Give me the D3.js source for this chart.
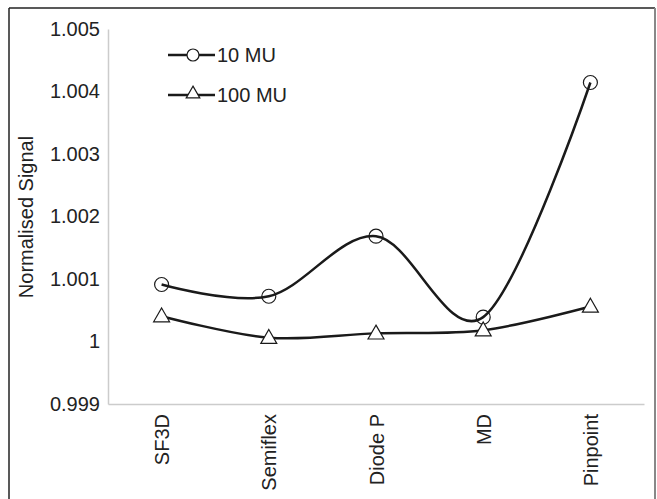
<!DOCTYPE html>
<html>
<head>
<meta charset="utf-8">
<script src="https://cdn.jsdelivr.net/npm/d3@7"></script>
<style>
  body { margin: 0; background: #fff; }
  text { font-family: "Liberation Sans", Arial, sans-serif; fill: #222; }
</style>
</head>
<body>
<div id="chart"></div>
<script>
var categories = ["SF3D", "Semiflex", "Diode P", "MD", "Pinpoint"];
var mu10 = [1.000912, 1.000724, 1.001685, 1.00039, 1.004144];
var mu100 = [1.000405, 1.00006, 1.00013, 1.00018, 1.00056];
var yTicks = [0.999, 1, 1.001, 1.002, 1.003, 1.004, 1.005];
var seriesNames = ["10 MU", "100 MU"];

var svgWidth = 657;
var svgHeight = 499;

var margin = { top: 29, right: 13, bottom: 95, left: 108 };
var width = svgWidth - margin.left - margin.right;
var height = svgHeight - margin.top - margin.bottom;

var svg = d3.select("#chart")
  .append("svg")
  .attr("width", svgWidth)
  .attr("height", svgHeight);

// outer frame
svg.append("line").attr("x1", 9).attr("y1", 8).attr("x2", 655).attr("y2", 8)
  .attr("stroke", "#222").attr("stroke-width", 1.5);
svg.append("line").attr("x1", 9).attr("y1", 8).attr("x2", 9).attr("y2", 499)
  .attr("stroke", "#222").attr("stroke-width", 1.5);
svg.append("line").attr("x1", 655).attr("y1", 8).attr("x2", 655).attr("y2", 499)
  .attr("stroke", "#888").attr("stroke-width", 2);

var chartGroup = svg.append("g")
  .attr("transform", `translate(${margin.left}, ${margin.top})`);

var xScale = d3.scalePoint()
  .domain(categories)
  .range([0, width])
  .padding(0.5);

var yScale = d3.scaleLinear()
  .domain([0.999, 1.005])
  .range([height, 0]);

// y axis
var leftAxis = d3.axisLeft(yScale)
  .tickValues(yTicks)
  .tickSize(0)
  .tickPadding(8)
  .tickFormat(d => d3.format("")(+d.toFixed(3)));

var yAxis = chartGroup.append("g").call(leftAxis);
yAxis.select(".domain").attr("stroke", "#ccc").attr("stroke-width", 1.5);
yAxis.selectAll("text").style("font-size", "20px").attr("fill", "#222");

// x axis
var bottomAxis = d3.axisBottom(xScale).tickSize(0).tickPadding(10);
var xAxis = chartGroup.append("g")
  .attr("transform", `translate(0, ${height})`)
  .call(bottomAxis);
xAxis.select(".domain").attr("stroke", "#ccc").attr("stroke-width", 1.5);
xAxis.selectAll("text")
  .style("font-size", "20px")
  .attr("fill", "#222")
  .attr("transform", "rotate(-90)")
  .attr("text-anchor", "end")
  .attr("x", -10)
  .attr("y", 0)
  .attr("dy", "0.35em");

// y label
svg.append("text")
  .attr("transform", "rotate(-90)")
  .attr("x", -217)
  .attr("y", 33)
  .attr("text-anchor", "middle")
  .style("font-size", "20px")
  .text("Normalised Signal");

var line = d3.line()
  .x((d, i) => xScale(categories[i]))
  .y(d => yScale(d))
  .curve(d3.curveCatmullRom.alpha(0));

chartGroup.append("path")
  .datum(mu10)
  .attr("d", line)
  .attr("fill", "none")
  .attr("stroke", "#1a1a1a")
  .attr("stroke-width", 2.5);

chartGroup.append("path")
  .datum(mu100)
  .attr("d", line)
  .attr("fill", "none")
  .attr("stroke", "#1a1a1a")
  .attr("stroke-width", 2.5);

var tri = d3.symbol().type(d3.symbolTriangle).size(110);

chartGroup.selectAll(".m10")
  .data(mu10)
  .enter()
  .append("circle")
  .attr("class", "m10")
  .attr("cx", (d, i) => xScale(categories[i]))
  .attr("cy", d => yScale(d))
  .attr("r", 7)
  .attr("fill", "none")
  .attr("stroke", "#1a1a1a")
  .attr("stroke-width", 1.2);

chartGroup.selectAll(".m100")
  .data(mu100)
  .enter()
  .append("path")
  .attr("class", "m100")
  .attr("d", tri)
  .attr("transform", (d, i) => `translate(${xScale(categories[i])}, ${yScale(d) + 1})`)
  .attr("fill", "#fff")
  .attr("stroke", "#1a1a1a")
  .attr("stroke-width", 1.2);

// legend
var legend = svg.append("g").attr("transform", "translate(168, 55)");
seriesNames.forEach(function(name, i) {
  var g = legend.append("g").attr("transform", `translate(0, ${i * 40})`);
  g.append("line").attr("x1", 0).attr("x2", 47).attr("y1", 0).attr("y2", 0)
    .attr("stroke", "#1a1a1a").attr("stroke-width", 2.5);
  if (i === 0) {
    g.append("circle").attr("cx", 25).attr("cy", 0).attr("r", 6)
      .attr("fill", "#fff").attr("stroke", "#1a1a1a").attr("stroke-width", 1.2);
  } else {
    g.append("path").attr("d", d3.symbol().type(d3.symbolTriangle).size(80))
      .attr("transform", "translate(25, -1)")
      .attr("fill", "#fff").attr("stroke", "#1a1a1a").attr("stroke-width", 1.2);
  }
  g.append("text").attr("x", 49).attr("y", 0).attr("dy", "0.35em")
    .style("font-size", "20px").text(name);
});
</script>
</body>
</html>
